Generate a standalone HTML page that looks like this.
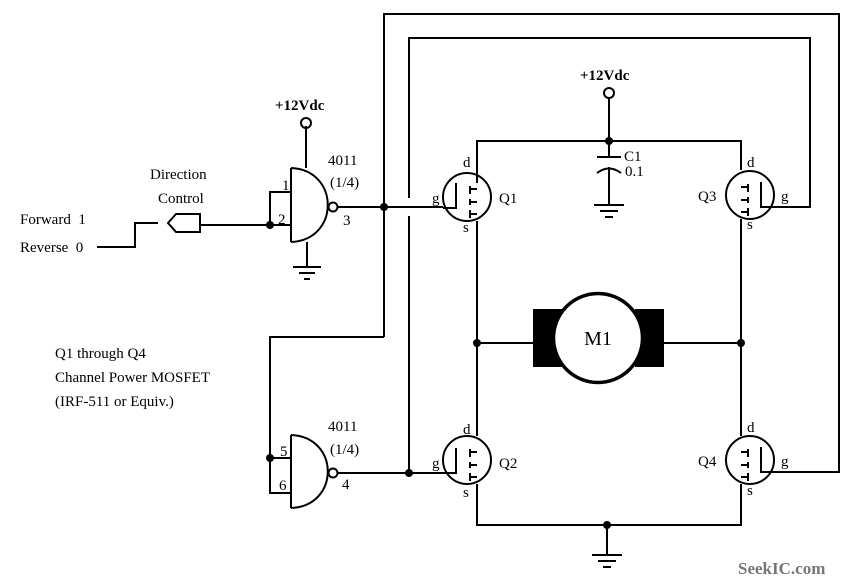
<!DOCTYPE html>
<html><head><meta charset="utf-8"><style>
html,body{margin:0;padding:0;background:#fff;}
svg{display:block;}
text{font-family:"Liberation Serif",serif;fill:#000;}
</style></head><body>
<svg width="858" height="584" viewBox="0 0 858 584" xmlns="http://www.w3.org/2000/svg">
<g fill="none" stroke="#000" stroke-width="2">
<!-- loops -->
<polyline points="384,337 384,14 839,14 839,472 774,472"/>
<polyline points="409,198 409,38 810,38 810,207 774,207"/>
<line x1="409" y1="216" x2="409" y2="473"/>
<polyline points="384,337 270,337 270,493 291,493"/>
<line x1="270" y1="458" x2="291" y2="458"/>
<!-- gate1 -->
<path d="M291,168 L291,242 M291,168 C340,170 340,240 291,242"/>
<circle cx="333" cy="207" r="4.5"/>
<line x1="338" y1="207" x2="443" y2="207"/>
<polyline points="291,192 270,192 270,225 291,225"/>
<line x1="200" y1="225" x2="270" y2="225"/>
<line x1="306" y1="126" x2="306" y2="168"/>
<circle cx="306" cy="123" r="5"/>
<line x1="307" y1="242" x2="307" y2="267"/>
<!-- gate2 -->
<path d="M291,435 L291,508 M291,435 C340,437 340,506 291,508"/>
<circle cx="333" cy="473" r="4.5"/>
<line x1="338" y1="473" x2="443" y2="473"/>
<!-- direction connector -->
<path d="M168,223 L176,214 L200,214 L200,232 L176,232 Z"/>
<polyline points="97,247 135,247 135,223 158,223"/>
<!-- bridge -->
<polyline points="477,183 477,141 741,141 741,170"/>
<line x1="477" y1="221" x2="477" y2="436"/>
<line x1="741" y1="219" x2="741" y2="436"/>
<polyline points="477,484 477,525 741,525 741,484"/>
<line x1="477" y1="343" x2="535" y2="343"/>
<line x1="663" y1="343" x2="741" y2="343"/>
<!-- C1 -->
<circle cx="609" cy="93" r="5"/>
<line x1="609" y1="98" x2="609" y2="157"/>
<line x1="597" y1="157" x2="621" y2="157"/>
<path d="M597,173 Q609,164 621,173"/>
<line x1="609" y1="167" x2="609" y2="205"/>
<!-- MOSFETs -->
<circle cx="467" cy="197" r="24"/>
<circle cx="467" cy="460" r="24"/>
<circle cx="750" cy="195" r="24"/>
<circle cx="750" cy="460" r="24"/>
<polyline points="443,208 456,208 456,183"/>
<polyline points="443,473 456,473 456,448"/>
<polyline points="774,207 761,207 761,182"/>
<polyline points="774,472 761,472 761,447"/>
<!-- motor -->
<circle cx="598" cy="338" r="45" stroke-width="2.5"/>
</g>
<g stroke="#000" stroke-width="2" fill="none">
<!-- channel ticks -->
<path d="M470,186 L470,194 M470,199 L470,205 M470,210 L470,218 M470,189 H477 M470,202 H477 M470,214 H477"/>
<path d="M470,449 L470,457 M470,462 L470,468 M470,473 L470,481 M470,452 H477 M470,465 H477 M470,477 H477"/>
<path d="M748,184 L748,192 M748,197 L748,203 M748,208 L748,216 M741,187 H748 M741,200 H748 M741,212 H748"/>
<path d="M748,449 L748,457 M748,462 L748,468 M748,473 L748,481 M741,452 H748 M741,465 H748 M741,477 H748"/>
<!-- grounds -->
<path d="M293,267 H321 M299,273 H315 M304,279 H310"/>
<path d="M594,205 H624 M600,211 H618 M605,217 H613"/>
<line x1="607" y1="525" x2="607" y2="555"/>
<path d="M592,555 H622 M598,561 H616 M603,567 H611"/>
</g>
<rect x="533" y="309" width="29" height="58" fill="#000"/>
<rect x="635" y="309" width="29" height="58" fill="#000"/>
<circle cx="598" cy="338" r="44" fill="#fff" stroke="#000" stroke-width="2.5"/>
<g fill="#000">
<circle cx="270" cy="225" r="4"/><circle cx="384" cy="207" r="4"/>
<circle cx="270" cy="458" r="4"/><circle cx="409" cy="473" r="4"/>
<circle cx="609" cy="141" r="4"/><circle cx="477" cy="343" r="4"/>
<circle cx="741" cy="343" r="4"/><circle cx="607" cy="525" r="4"/>
</g>
<g font-size="15">
<text x="598" y="345" text-anchor="middle" font-size="20">M1</text>
<text x="275" y="110" font-weight="bold">+12Vdc</text>
<text x="580" y="80" font-weight="bold">+12Vdc</text>
<text x="328" y="165">4011</text><text x="330" y="187">(1/4)</text>
<text x="328" y="431">4011</text><text x="330" y="454">(1/4)</text>
<text x="282" y="190">1</text><text x="278" y="224">2</text><text x="343" y="225">3</text>
<text x="280" y="456">5</text><text x="279" y="490">6</text><text x="342" y="489">4</text>
<text x="150" y="179">Direction</text><text x="158" y="203">Control</text>
<text x="20" y="224">Forward&#160; 1</text><text x="20" y="252">Reverse&#160; 0</text>
<text x="55" y="358">Q1 through Q4</text>
<text x="55" y="382">Channel Power MOSFET</text>
<text x="55" y="406">(IRF-511 or Equiv.)</text>
<text x="624" y="161">C1</text><text x="625" y="176">0.1</text>
<text x="463" y="167">d</text><text x="463" y="232">s</text><text x="432" y="203">g</text><text x="499" y="203">Q1</text>
<text x="463" y="434">d</text><text x="463" y="497">s</text><text x="432" y="468">g</text><text x="499" y="468">Q2</text>
<text x="747" y="167">d</text><text x="747" y="229">s</text><text x="781" y="201">g</text><text x="698" y="201">Q3</text>
<text x="747" y="432">d</text><text x="747" y="495">s</text><text x="781" y="466">g</text><text x="698" y="466">Q4</text>
</g>
<text x="738" y="574" font-family="Liberation Sans,sans-serif" font-weight="bold" font-size="17" fill="#777" style="fill:#777">SeekIC.com</text>
</svg>
</body></html>
